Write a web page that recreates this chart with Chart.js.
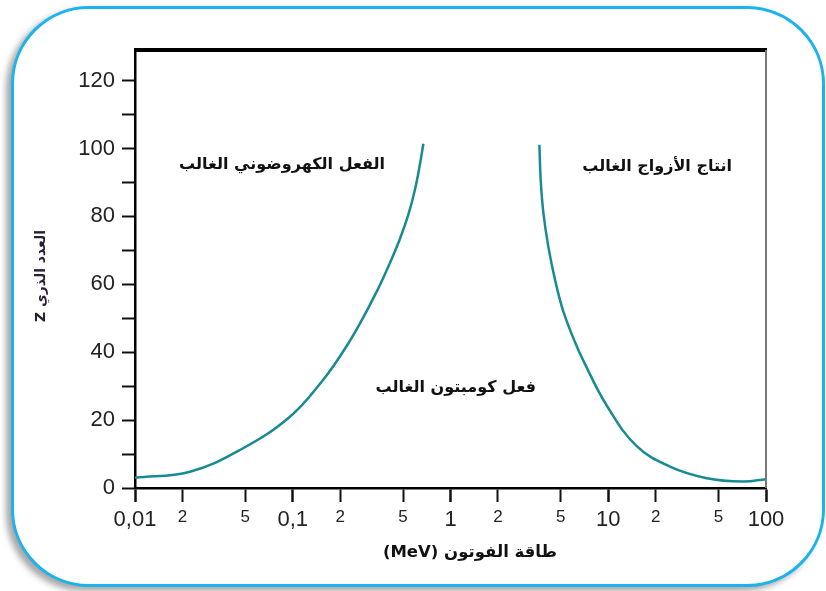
<!DOCTYPE html>
<html lang="ar">
<head>
    <meta charset="UTF-8">
    <meta name="viewport" content="width=device-width, initial-scale=1.0">
    <script src="https://cdn.jsdelivr.net/npm/chart.js@4.4.1/dist/chart.umd.min.js"></script>
    <title>Z vs photon energy</title>
    <style>
        body { margin: 0; background: #fff; }
        #frame {
            position: absolute; left: 11px; top: 6px; width: 814px; height: 581px;
            box-sizing: border-box; border: 3px solid #1cb2ec; border-radius: 78px;
            box-shadow: -5px 4px 6px rgba(0,0,0,0.35);
            background: #fff;
        }
        #myChart { position: absolute; left: 0; top: 0; }
    </style>
</head>
<body>
    <div id="frame"></div>
    <canvas id="myChart" width="826" height="591"></canvas>

    <script>
        // photoelectric boundary (MeV, Z)
        const photoEnergy = [0.01, 0.0223, 0.0463, 0.096, 0.156, 0.214, 0.267, 0.341, 0.413, 0.479, 0.541, 0.596, 0.641, 0.673];
        const photoZ      = [3, 4.8, 11.2, 21, 31.9, 41, 48.5, 57.9, 66.3, 73.5, 80.6, 88, 95.5, 101.4];

        // pair production boundary (MeV, Z)
        const pairEnergy = [3.66, 3.73, 3.88, 4.17, 4.6, 5.19, 6.15, 6.95, 9.78, 15.1, 24.6, 42.1, 71.8, 100];
        const pairZ      = [101.1, 90.8, 81, 71.1, 61.3, 52, 43, 37.5, 24.3, 12.4, 6.3, 2.9, 1.9, 2.6];

        const xTicks      = [0.01, 0.02, 0.05, 0.1, 0.2, 0.5, 1, 2, 5, 10, 20, 50, 100];
        const xTickLabels = ['0,01', '2', '5', '0,1', '2', '5', '1', '2', '5', '10', '2', '5', '100'];
        const yTicks      = [0, 10, 20, 30, 40, 50, 60, 70, 80, 90, 100, 110, 120];
        const yTickLabels = ['0', '', '20', '', '40', '', '60', '', '80', '', '100', '', '120'];

        const noteText   = ['الفعل الكهروضوني الغالب', 'انتاج الأزواج الغالب', 'فعل كومبتون الغالب'];
        const noteEnergy = [0.0855, 20.4, 1.08];
        const noteZ      = [95.3, 94.7, 29.5];

        const xTitle = 'طاقة الفوتون (MeV)';
        const yTitle = 'العدد الذري Z';

        const curveColor = '#178b91';

        const extras = {
            id: 'extras',
            afterDraw(chart) {
                const {ctx, chartArea: a, scales: {x, y}} = chart;
                ctx.save();
                // frame top and right
                ctx.strokeStyle = '#000';
                ctx.lineWidth = 4;
                ctx.beginPath();
                ctx.moveTo(a.left - 1, a.top);
                ctx.lineTo(a.right + 1, a.top);
                ctx.stroke();
                ctx.strokeStyle = '#777';
                ctx.lineWidth = 2;
                ctx.beginPath();
                ctx.moveTo(a.right, a.top);
                ctx.lineTo(a.right, a.bottom);
                ctx.stroke();

                // region labels
                ctx.direction = 'rtl';
                ctx.fillStyle = '#111';
                ctx.textAlign = 'center';
                ctx.textBaseline = 'middle';
                ctx.font = 'bold 16px "DejaVu Sans"';
                for (let i = 0; i < noteText.length; i++) {
                    ctx.fillText(noteText[i], x.getPixelForValue(noteEnergy[i]), y.getPixelForValue(noteZ[i]));
                }

                // axis titles
                ctx.font = 'bold 16.5px "DejaVu Sans"';
                ctx.fillText(xTitle, 470, 553);
                ctx.translate(41, 276);
                ctx.rotate(-Math.PI / 2);
                ctx.fillStyle = '#2a2035';
                ctx.font = 'bold 14px "DejaVu Sans"';
                ctx.fillText(yTitle, 0, 0);
                ctx.restore();
            }
        };

        const ctx = document.getElementById('myChart').getContext('2d');
        const myChart = new Chart(ctx, {
            type: 'line',
            data: {
                datasets: [
                    {
                        data: photoEnergy.map((e, i) => ({x: e, y: photoZ[i]})),
                        borderColor: curveColor,
                        borderWidth: 2.5,
                        pointRadius: 0,
                        tension: 0.4
                    },
                    {
                        data: pairEnergy.map((e, i) => ({x: e, y: pairZ[i]})),
                        borderColor: curveColor,
                        borderWidth: 2.5,
                        pointRadius: 0,
                        tension: 0.4
                    }
                ]
            },
            options: {
                responsive: false,
                animation: false,
                layout: { padding: { left: 0, right: 60, top: 50, bottom: 0 } },
                plugins: { legend: { display: false }, tooltip: { enabled: false } },
                scales: {
                    x: {
                        type: 'logarithmic',
                        min: 0.01,
                        max: 100,
                        afterBuildTicks: (s) => {
                            s.ticks = xTicks.map((v, i) => ({ value: v, major: xTickLabels[i].length > 1 || v === 1 }));
                        },
                        afterFit: (s) => { s.height = 103; },
                        border: { color: '#000', width: 2.5 },
                        grid: {
                            drawOnChartArea: false,
                            tickLength: 14,
                            tickColor: '#111',
                            tickWidth: (c) => (c.tick && c.tick.major ? 2.5 : 2)
                        },
                        ticks: {
                            autoSkip: false,
                            maxRotation: 0,
                            padding: 5,
                            color: '#222',
                            callback: (v, i) => xTickLabels[i],
                            font: (c) => ({
                                family: '"Liberation Sans", Arial, sans-serif',
                                size: c.tick && c.tick.major ? 22 : 17
                            })
                        }
                    },
                    y: {
                        min: 0,
                        max: 129,
                        afterBuildTicks: (s) => {
                            s.ticks = yTicks.map(v => ({ value: v }));
                        },
                        afterFit: (s) => { s.width = 135; },
                        border: { color: '#000', width: 2.5 },
                        grid: {
                            drawOnChartArea: false,
                            tickLength: 13,
                            tickColor: '#111',
                            tickWidth: 2
                        },
                        ticks: {
                            padding: 7,
                            color: '#222',
                            callback: (v, i) => yTickLabels[i],
                            font: { family: '"Liberation Sans", Arial, sans-serif', size: 22 }
                        }
                    }
                }
            },
            plugins: [extras]
        });
    </script>
</body>
</html>
